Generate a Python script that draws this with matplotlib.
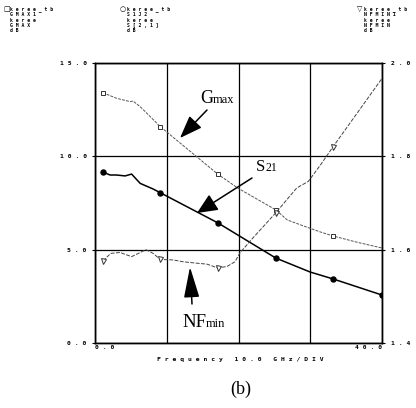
import matplotlib
matplotlib.use('Agg')
import matplotlib.pyplot as plt
from matplotlib.patches import FancyArrowPatch

# ---------------- data ----------------
marker_freqs = [1.1, 9.1, 17.1, 25.2, 33.2]

freq_gmax = [1.1, 3.0, 4.9, 5.3, 6.3, 9.1, 17.1, 19.9, 25.2, 26.8, 29.5, 31.4, 33.2, 36.5, 40.0]
gmax = [13.41, 13.11, 12.93, 12.96, 12.66, 11.59, 9.05, 8.30, 7.13, 6.59, 6.21, 5.95, 5.73, 5.40, 5.09]

freq_s21 = [1.1, 2.1, 3.0, 4.2, 5.1, 6.3, 8.1, 9.1, 17.1, 25.2, 30.0, 33.2, 40.0]
s21 = [9.16, 9.00, 9.00, 8.95, 9.05, 8.55, 8.25, 8.05, 6.44, 4.55, 3.80, 3.43, 2.57]

freq_nf = [1.1, 2.2, 3.5, 5.1, 7.1, 8.1, 9.1, 10.9, 12.3, 14.2, 15.6, 17.1, 18.4, 19.5,
           20.2, 22.0, 25.2, 28.1, 29.7, 30.2, 31.4, 33.2, 40.0]
nfmin = [1.576, 1.592, 1.594, 1.585, 1.600, 1.592, 1.579, 1.578, 1.574, 1.571, 1.569, 1.561,
         1.564, 1.574, 1.593, 1.625, 1.679, 1.732, 1.746, 1.756, 1.781, 1.821, 1.967]

left_ticks = [0.0, 5.0, 10.0, 15.0]
left_tick_labels = ['0.0', '5.0', '10.0', '15.0']
right_ticks = [1.4, 1.6, 1.8, 2.0]
right_tick_labels = ['1.4', '1.6', '1.8', '2.0']
x_ticks = [0, 10, 20, 30, 40]
x_tick_labels = ['0.0', '', '', '', '40.0']
x_label = 'Frequency 10.0 GHz/DIV'

header_gmax = ['keree_tb', 'GMAX1', 'keree', 'GMAX', 'dB']
header_s21 = ['keree_tb', 'S1J2', 'keree', 'S[2,1]', 'dB']
header_nf = ['keree_tb', 'NFMIN1', 'keree', 'NFMIN', 'dB']

# ---------------- figure ----------------
W, H = 416, 408
fig = plt.figure(figsize=(W / 100, H / 100), dpi=100)
fig.patch.set_facecolor('white')

def px(x, y):
    return x / W, 1 - y / H

def spaced(s, gap=' '):
    words = s.split(' ')
    return '   '.join(gap.join(w) for w in words)

ax = fig.add_axes([95 / W, 65 / H, 287 / W, 280 / H])
ax2 = ax.twinx()

mono = 'DejaVu Sans Mono'
serif = 'Liberation Serif'

ax.set_xlim(0, 40)
ax.set_ylim(0, 15)
ax2.set_ylim(1.4, 2.0)

ax.set_xticks(x_ticks)
ax.set_xticklabels([spaced(t) for t in x_tick_labels], fontfamily=mono, fontsize=4.6,
                   fontweight='bold')
xl = ax.get_xticklabels()
xl[0].set_ha('left')
xl[-1].set_ha('right')
ax.tick_params(axis='x', length=0, pad=1.5, colors='black')

ax.set_yticks(left_ticks)
ax.set_yticklabels([spaced(t) for t in left_tick_labels], fontfamily=mono, fontsize=4.6,
                   fontweight='bold')
ax.tick_params(axis='y', length=2, width=0.8, pad=4, direction='out')

ax2.set_yticks(right_ticks)
ax2.set_yticklabels([spaced(t) for t in right_tick_labels], fontfamily=mono, fontsize=4.6,
                    fontweight='bold')
ax2.tick_params(axis='y', length=2, width=0.8, pad=4.5, direction='out')

ax.grid(True, color='black', linewidth=0.9)
for a in (ax, ax2):
    for sp in a.spines.values():
        sp.set_linewidth(1.0)
        sp.set_color('black')

def midx(freqs):
    return [i for i, f in enumerate(freqs) if f in marker_freqs]

ax.plot(freq_gmax, gmax, color='#555555', linewidth=0.7, linestyle=(0, (3, 1.2)),
        marker='s', markersize=3.2, markerfacecolor='white', markeredgecolor='#333333',
        markeredgewidth=0.7, markevery=midx(freq_gmax), zorder=3)
ax.plot(freq_s21, s21, color='black', linewidth=1.1, linestyle='-',
        marker='o', markersize=3.6, markerfacecolor='black', markeredgecolor='black',
        markevery=midx(freq_s21) + [len(freq_s21) - 1], zorder=3)
ax2.plot(freq_nf, nfmin, color='#444444', linewidth=0.7, linestyle=(0, (4, 1.5)),
         marker='v', markersize=3.6, markerfacecolor='white', markeredgecolor='#333333',
         markeredgewidth=0.7, markevery=midx(freq_nf), zorder=3)

# ---------------- arrows & labels ----------------
def arrow(tail, tip, hl, hw):
    a = FancyArrowPatch(px(*tail), px(*tip), transform=fig.transFigure,
                        arrowstyle=f'-|>,head_length={hl},head_width={hw}',
                        mutation_scale=1, color='black', linewidth=1.1,
                        shrinkA=0, shrinkB=0)
    fig.patches.append(a)

arrow((207, 110), (180, 138), 14, 5.2)
arrow((252, 178), (197, 213), 12.5, 5.6)
arrow((192, 304), (190, 267), 19, 4.8)

def label(x, y, big, small, fs_big=13, fs_small=9):
    t = fig.text(*px(x, y), big, fontfamily=serif, fontsize=fs_big, va='baseline', ha='left')
    fig.canvas.draw()
    bb = t.get_window_extent()
    fig.text(bb.x1 / W, 1 - y / H, small, fontfamily=serif, fontsize=fs_small,
             va='baseline', ha='left')

label(200, 103, 'G', 'max', 13, 9)
label(256, 171, 'S', '21', 12, 8.5)
label(182, 327, 'NF', 'min', 13.5, 9)

fig.text(*px(241, 389), '(b)', fontfamily=serif, fontsize=13, ha='center', va='center')

fig.text(*px(240, 360), spaced(x_label), fontfamily=mono, fontsize=4.6, fontweight='bold',
         ha='center', va='center')

# ---------------- header blocks ----------------
rows_y = [9, 14.5, 20, 25.5, 31]
def header(x_sym, x_txt, sym, lines):
    fig.text(*px(x_sym, rows_y[0]), sym, fontfamily='DejaVu Sans', fontsize=5,
             ha='left', va='center')
    for yy, s in zip(rows_y, lines):
        fig.text(*px(x_txt, yy), ' '.join(s), fontfamily=mono, fontsize=3.4,
                 fontweight='bold', ha='left', va='center')

header(3, 10, '\u25a1', header_gmax)
header(120, 127, '\u25cb', header_s21)
header(357, 364, '\u25bd', header_nf)

fig.savefig('out.png', dpi=100, facecolor='white')
